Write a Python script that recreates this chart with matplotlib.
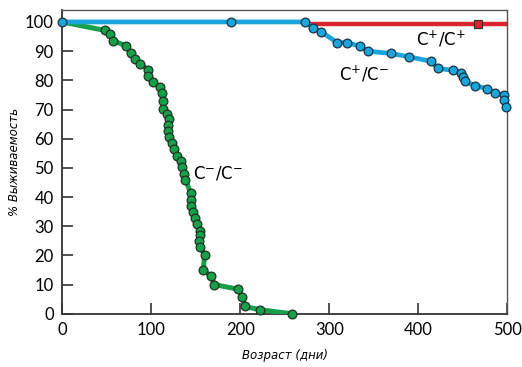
import matplotlib.pyplot as plt

plt.rcParams['mathtext.fontset'] = 'custom'
plt.rcParams['mathtext.rm'] = 'Lato'

# C-/C- (зелёная кривая)
gg_x = [0, 48, 54, 57, 72, 77, 82, 88, 96, 96, 102, 110, 112, 113, 113.5,
        117.5, 120, 118.5, 119, 119.5, 123, 126, 129.5, 133, 134.5, 136.5,
        138.5, 144.5, 145, 144.5, 147.5, 149, 151, 155, 155, 154, 155,
        160, 158.5, 167, 171, 198, 202.5, 205, 222, 258]
gg_y = [100, 97.1, 95.8, 93.6, 91.8, 89.2, 87.2, 85.6, 83.7, 81.4, 79.4,
        77.6, 75.5, 73, 70.3, 68.4, 66.7, 64.6, 62.5, 60.6, 58.5, 56.5,
        54.1, 52.2, 50.3, 48, 45.9, 41.3, 39.1, 37, 34.8, 32.9, 30.6, 28.5,
        27, 25.1, 22.8, 20.2, 15, 13, 10, 8.4, 5.6, 2.5, 1.4, 0]

# C+/C- (голубая кривая)
pm_x = [0, 190, 273, 282, 291, 309, 320, 335, 343, 369, 389, 414, 422,
        439, 448, 450, 452, 464, 477, 486, 496, 496.5, 499]
pm_y = [100, 100, 100, 97.9, 96.6, 92.9, 92.9, 91.7, 90.0, 89.2, 88.1,
        86.5, 84.1, 83.4, 82.6, 81.2, 79.6, 78.2, 77.1, 75.7, 74.9, 73.2, 71]

# C+/C+ (красная линия)
pp_x = [277, 467, 500]
pp_y = [99.4, 99.4, 99.4]

green = '#16a04a'
blue = '#1aa5dc'
red = '#d9262e'

fig = plt.figure(figsize=(5.22, 3.67), dpi=100)
ax = fig.add_axes([0.119, 0.145, 0.853, 0.827])

ax.plot(pp_x, pp_y, color=red, lw=3.2, solid_capstyle='butt', zorder=2)
ax.plot([pp_x[1]], [pp_y[1]], 's', ms=5.5, mfc=red, mec='#333333', mew=0.9,
        zorder=5, clip_on=False)

ax.plot(gg_x, gg_y, color=green, lw=3.6, zorder=3)
ax.plot(gg_x[1:], gg_y[1:], 'o', ms=6.3, mfc=green, mec='#1f3324', mew=0.9,
        zorder=4, clip_on=False)

ax.plot(pm_x, pm_y, color=blue, lw=3.4, zorder=3, clip_on=False)
ax.plot(pm_x, pm_y, 'o', ms=6.3, mfc=blue, mec='#1c3340', mew=0.9,
        zorder=4, clip_on=False)

ax.text(147, 48, r'$\mathregular{C^{-}/C^{-}}$', fontsize=12, va='center')
ax.text(311, 82, r'$\mathregular{C^{+}/C^{-}}$', fontsize=12, va='center')
ax.text(397, 94, r'$\mathregular{C^{+}/C^{+}}$', fontsize=12, va='center')

ax.set_xlim(0, 500)
ax.set_ylim(0, 104)
ax.set_xticks(range(0, 501, 100))
ax.set_yticks(range(0, 101, 10))
ax.tick_params(direction='in', length=8, width=1.2, color='#333333',
               labelsize=12, pad=6)
for lbl in ax.get_xticklabels() + ax.get_yticklabels():
    lbl.set_fontfamily('Lato')

for s in ['left', 'bottom']:
    ax.spines[s].set_linewidth(1.3)
    ax.spines[s].set_color('#333333')
for s in ['top', 'right']:
    ax.spines[s].set_linewidth(1.0)
    ax.spines[s].set_color('#555555')

ax.set_xlabel('Возраст (дни)', fontsize=8.5, style='italic', labelpad=8)
ax.set_ylabel('% Выживаемость', fontsize=8.5, style='italic', labelpad=3)

fig.savefig('out.png', dpi=100)
